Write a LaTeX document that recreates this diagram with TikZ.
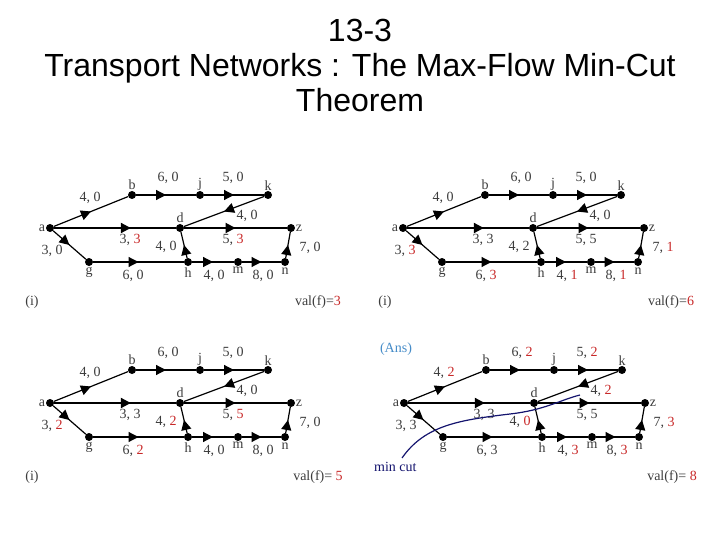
\documentclass[tikz,border=0pt]{standalone}
\usepackage{fontspec}
\setmainfont{Liberation Serif}
\newfontfamily\titlefont{Liberation Sans}
\usetikzlibrary{positioning,decorations.markings,arrows.meta}
\definecolor{flowred}{RGB}{200,40,40}
\definecolor{cutblue}{RGB}{20,20,110}
\definecolor{ansblue}{RGB}{70,140,200}
\definecolor{labgray}{RGB}{60,60,60}
\tikzset{
  vtx/.style={circle, fill=black, inner sep=0pt, minimum size=8pt},
  vlab/.style={font=\fontsize{14}{14}\selectfont, text=labgray, inner sep=0.5pt},
  lab/.style={font=\fontsize{14}{14}\selectfont, text=labgray, inner sep=0pt},
  edge/.style={line width=1.2pt, postaction={decorate}, decoration={markings, mark=at position #1 with {\arrow{Triangle[width=10pt,length=10pt]}}}},
  edge/.default=0.5,
  thickedge/.style={edge=#1, line width=2pt},
  thickedge/.default=0.5
}
\newcommand{\fl}[1]{\textcolor{flowred}{#1}}
% one network, node names prefixed by #1
\newcommand{\netpanel}[3]{
\begin{scope}[shift={(#2,#3)}]
\node (#1a) [vtx] at (50,228) {};
\node (#1b) [vtx] at (132,195) {};
\node (#1j) [vtx] at (200,195) {};
\node (#1k) [vtx] at (268,195) {};
\node (#1d) [vtx] at (180,228) {};
\node (#1z) [vtx] at (291,228) {};
\node (#1g) [vtx] at (89,262) {};
\node (#1h) [vtx] at (188,262) {};
\node (#1m) [vtx] at (238,262) {};
\node (#1n) [vtx] at (285,262) {};
\node [vlab, left=0pt of #1a] {a};
\node [vlab, above=0pt of #1b] {b};
\node [vlab, above=0pt of #1j] {j};
\node [vlab, above=0pt of #1k] {k};
\node [vlab, above=0pt of #1d] {d};
\node [vlab, right=0pt of #1z] {z};
\node [vlab, below=0pt of #1g] {g};
\node [vlab, below=1pt of #1h] {h};
\node [vlab, below=0pt of #1m] {m};
\node [vlab, below=1pt of #1n] {n};
\draw [edge] (#1a) -- (#1b);
\draw [edge] (#1b) -- (#1j);
\draw [edge] (#1j) -- (#1k);
\draw [edge] (#1k) -- (#1d);
\draw [thickedge=0.63] (#1a) -- (#1d);
\draw [thickedge] (#1d) -- (#1z);
\draw [edge] (#1a) -- (#1g);
\draw [edge] (#1g) -- (#1h);
\draw [edge] (#1h) -- (#1d);
\draw [edge] (#1h) -- (#1m);
\draw [edge] (#1m) -- (#1n);
\draw [edge] (#1n) -- (#1z);
\coordinate (#1ab) at (90,198);
\coordinate (#1bj) at (168,178);
\coordinate (#1jk) at (233,178);
\coordinate (#1kd) at (247,216);
\coordinate (#1ad) at (130,240);
\coordinate (#1dz) at (233,240);
\coordinate (#1ag) at (52,251);
\coordinate (#1gh) at (133,276);
\coordinate (#1hd) at (166,247);
\coordinate (#1hm) at (214,276);
\coordinate (#1mn) at (263,276);
\coordinate (#1nz) at (310,248);
\coordinate (#1i) at (32,302);
\coordinate (#1v) at (318,302);
\end{scope}
}

\begin{document}
\begin{tikzpicture}[x=1pt, y=-1pt]
\useasboundingbox (0,0) rectangle (720,540);
\node (title) [font=\titlefont\fontsize{32}{35}\selectfont, align=center] at (360,65) {13-3\\Transport Networks : The Max-Flow Min-Cut\\Theorem};

\netpanel{A}{0}{0}
\netpanel{B}{353}{0}
\netpanel{C}{0}{175}
\netpanel{D}{354}{175}

\foreach \e/\t in {ab/{4, 0}, bj/{6, 0}, jk/{5, 0}, kd/{4, 0}, ad/{3, \fl{3}}, dz/{5, \fl{3}}, ag/{3, 0}, gh/{6, 0}, hd/{4, 0}, hm/{4, 0}, mn/{8, 0}, nz/{7, 0}, i/{(i)}, v/{val(f)=\fl{3}}}
  \node [lab] at (A\e) {\t};
\foreach \e/\t in {ab/{4, 0}, bj/{6, 0}, jk/{5, 0}, kd/{4, 0}, ad/{3, 3}, dz/{5, 5}, ag/{3, \fl{3}}, gh/{6, \fl{3}}, hd/{4, 2}, hm/{4, \fl{1}}, mn/{8, \fl{1}}, nz/{7, \fl{1}}, i/{(i)}, v/{val(f)=\fl{6}}}
  \node [lab] at (B\e) {\t};
\foreach \e/\t in {ab/{4, 0}, bj/{6, 0}, jk/{5, 0}, kd/{4, 0}, ad/{3, 3}, dz/{5, \fl{5}}, ag/{3, \fl{2}}, gh/{6, \fl{2}}, hd/{4, \fl{2}}, hm/{4, 0}, mn/{8, 0}, nz/{7, 0}, i/{(i)}, v/{val(f)= \fl{5}}}
  \node [lab] at (C\e) {\t};
\foreach \e/\t in {ab/{4, \fl{2}}, bj/{6, \fl{2}}, jk/{5, \fl{2}}, kd/{4, \fl{2}}, ad/{3, 3}, dz/{5, 5}, ag/{3, 3}, gh/{6, 3}, hd/{4, \fl{0}}, hm/{4, \fl{3}}, mn/{8, \fl{3}}, nz/{7, \fl{3}}, v/{val(f)= \fl{8}}}
  \node [lab] at (D\e) {\t};

\node (ans) [lab, text=ansblue] at (396,349) {(Ans)};
\node (mincut) [lab, text=cutblue, anchor=west] at (374,467) {min cut};
\coordinate (cutstart) at (402,458);
\coordinate (cutend) at (580,395);
\draw [cutblue, line width=1.2pt] (cutstart) .. controls (425,425) and (460,420) .. (510,414) .. controls (545,410) and (560,400) .. (cutend);
\end{tikzpicture}
\end{document}
